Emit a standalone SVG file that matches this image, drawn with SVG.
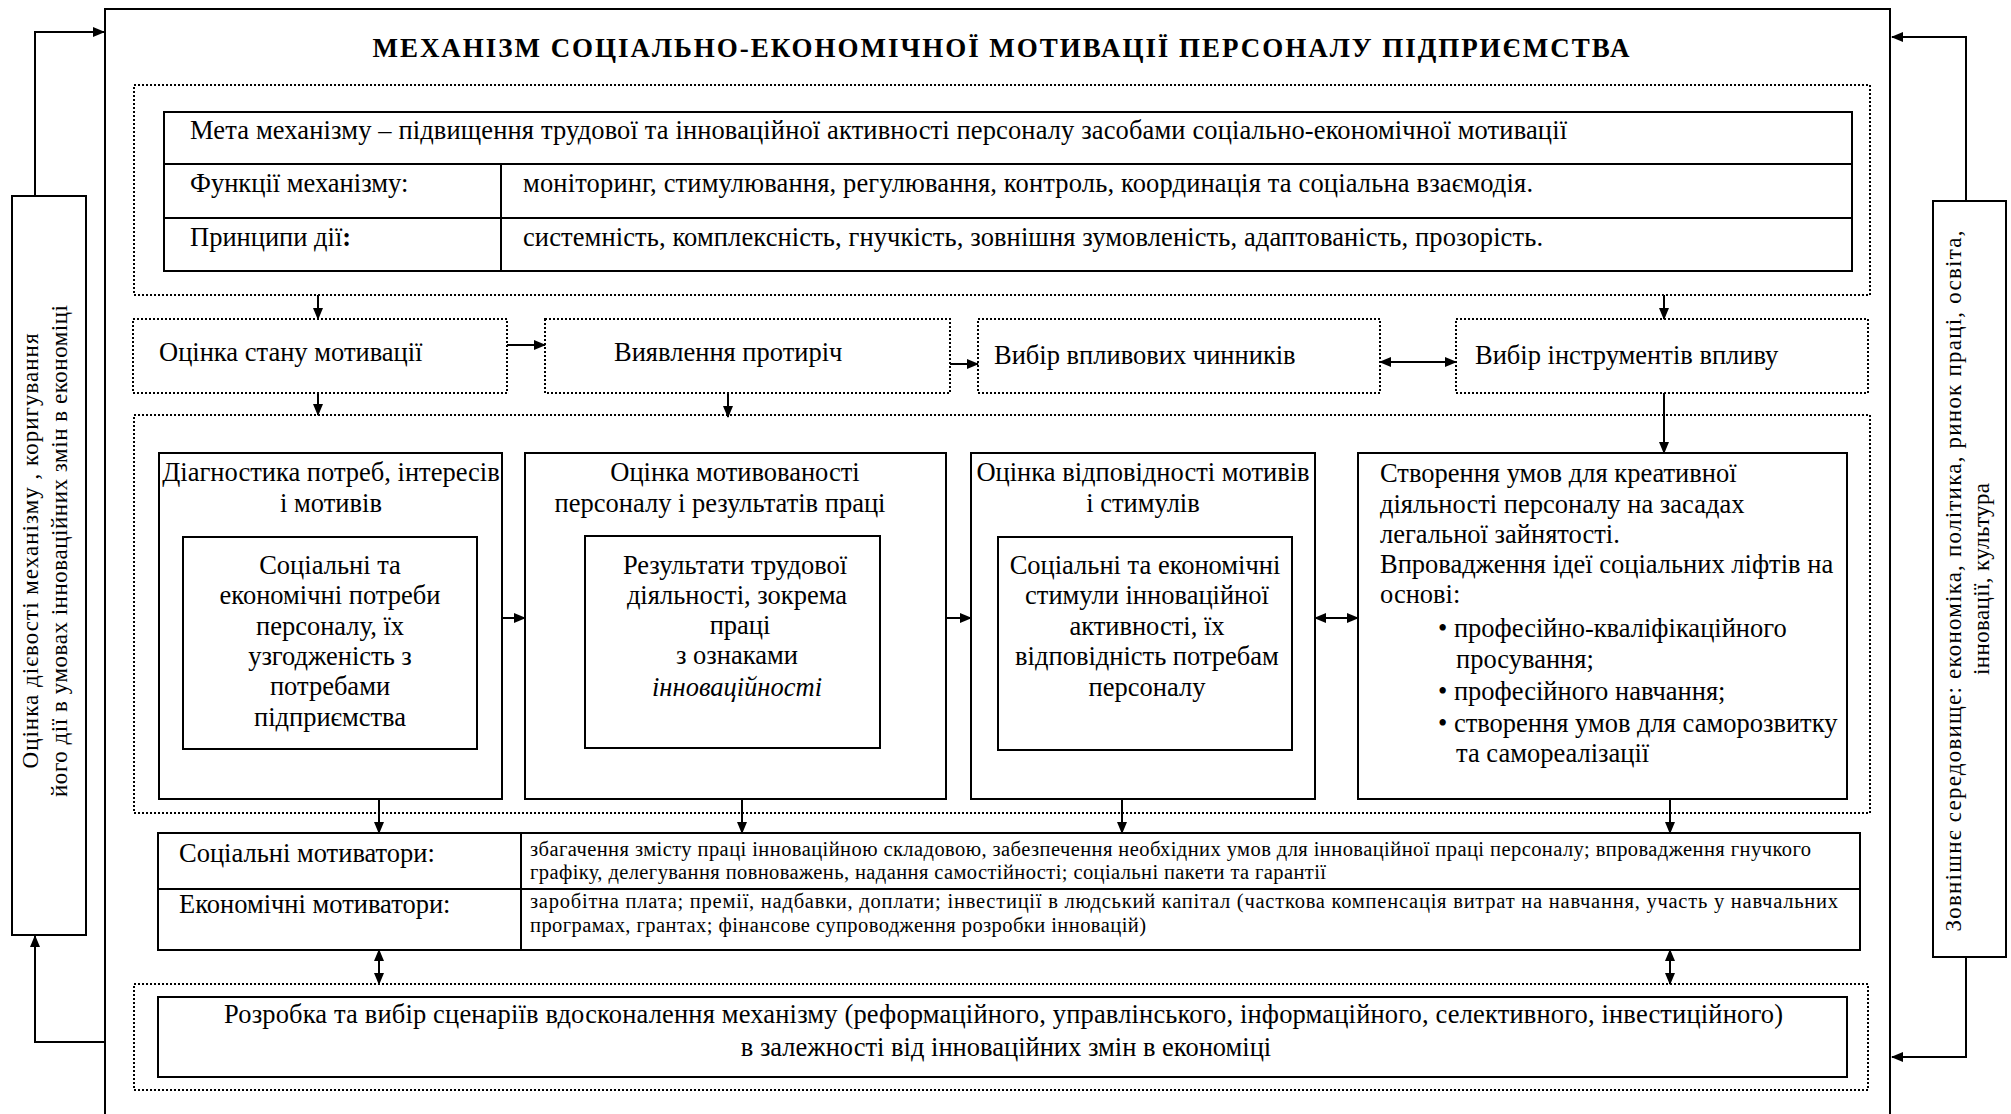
<svg xmlns="http://www.w3.org/2000/svg" width="2011" height="1114" viewBox="0 0 2011 1114">
<style>
text{font-family:"Liberation Serif","Times New Roman",serif;fill:#000}
.t{font-size:26.5px}
.s{font-size:20.5px}
.c{text-anchor:middle}
.v{font-size:23px;text-anchor:middle}
.solid{fill:#fff;stroke:#000;stroke-width:2}
.dot{fill:none;stroke:#000;stroke-width:2;stroke-dasharray:2 2}
.ln{stroke:#000;stroke-width:2;fill:none}
</style>
<defs>
<marker id="ah" markerUnits="userSpaceOnUse" markerWidth="12" markerHeight="10" refX="11" refY="5" orient="auto-start-reverse" viewBox="0 0 12 10"><path d="M0,0 L12,5 L0,10 z" fill="#000"/></marker>
</defs>
<rect width="2011" height="1114" fill="#fff"/>
<g id="frame"><path class="ln" d="M105,1114 V9 H1890 V1114"/></g>
<g id="title"><text x="1001" y="57" class="c" font-size="27" font-weight="bold" textLength="1257" lengthAdjust="spacing">МЕХАНІЗМ СОЦІАЛЬНО-ЕКОНОМІЧНОЇ МОТИВАЦІЇ ПЕРСОНАЛУ ПІДПРИЄМСТВА</text></g>
<g id="left-box"><rect class="solid" x="12" y="196" width="74" height="739"/>
<text class="v" transform="translate(38,551) rotate(-90)" textLength="435" lengthAdjust="spacing">Оцінка дієвості механізму , коригування</text>
<text class="v" transform="translate(67,551) rotate(-90)" textLength="492" lengthAdjust="spacing">його дії в умовах інноваційних змін в економіці</text></g>
<g id="right-box"><rect class="solid" x="1933" y="201" width="73" height="756"/>
<text class="v" transform="translate(1961,581) rotate(-90)" textLength="701" lengthAdjust="spacing">Зовнішнє середовище: економіка, політика, ринок праці, освіта,</text>
<text class="v" transform="translate(1989,579) rotate(-90)" textLength="192" lengthAdjust="spacing">інновації, культура</text></g>
<g id="top-block"><rect class="dot" x="134" y="85" width="1736" height="210"/>
<rect class="solid" x="164" y="112" width="1688" height="159"/>
<path class="ln" d="M164,164 H1852 M164,218 H1852 M501,164 V271"/>
<text class="t" x="190" y="139" textLength="1377" lengthAdjust="spacing">Мета механізму – підвищення трудової та інноваційної активності персоналу засобами соціально-економічної мотивації</text>
<text class="t" x="190" y="192">Функції механізму:</text>
<text class="t" x="523" y="192" textLength="1010" lengthAdjust="spacing">моніторинг, стимулювання, регулювання, контроль, координація та соціальна взаємодія.</text>
<text class="t" x="190" y="246">Принципи дії<tspan font-weight="bold">:</tspan></text>
<text class="t" x="523" y="246" textLength="1020" lengthAdjust="spacing">системність, комплексність, гнучкість, зовнішня зумовленість, адаптованість, прозорість.</text></g>
<g id="box-a"><rect class="dot" x="133" y="319" width="374" height="74"/><text class="t" x="159" y="361">Оцінка стану мотивації</text></g>
<g id="box-b"><rect class="dot" x="545" y="319" width="405" height="74"/><text class="t" x="614" y="361">Виявлення протиріч</text></g>
<g id="box-c"><rect class="dot" x="978" y="319" width="402" height="74"/><text class="t" x="994" y="364">Вибір впливових чинників</text></g>
<g id="box-d"><rect class="dot" x="1456" y="319" width="412" height="74"/><text class="t" x="1475" y="364">Вибір інструментів впливу</text></g>
<g id="middle-block"><rect class="dot" x="134" y="415" width="1736" height="398"/></g>
<g id="box-1"><rect class="solid" x="159" y="453" width="343" height="346"/>
<text class="t c" x="331" y="481">Діагностика потреб, інтересів</text>
<text class="t c" x="331" y="512">і мотивів</text>
<rect class="solid" x="183" y="537" width="294" height="212"/>
<text class="t c" x="330" y="574">Соціальні та</text>
<text class="t c" x="330" y="604">економічні потреби</text>
<text class="t c" x="330" y="635">персоналу, їх</text>
<text class="t c" x="330" y="665">узгодженість з</text>
<text class="t c" x="330" y="695">потребами</text>
<text class="t c" x="330" y="726">підприємства</text></g>
<g id="box-2"><rect class="solid" x="525" y="453" width="421" height="346"/>
<text class="t c" x="735" y="481">Оцінка мотивованості</text>
<text class="t c" x="720" y="512">персоналу і результатів праці</text>
<rect class="solid" x="585" y="536" width="295" height="212"/>
<text class="t c" x="735" y="574">Результати трудової</text>
<text class="t c" x="737" y="604">діяльності, зокрема</text>
<text class="t c" x="740" y="634">праці</text>
<text class="t c" x="737" y="664">з ознаками</text>
<text class="t c" x="737" y="696" font-style="italic">інноваційності</text></g>
<g id="box-3"><rect class="solid" x="971" y="453" width="344" height="346"/>
<text class="t c" x="1143" y="481">Оцінка відповідності мотивів</text>
<text class="t c" x="1143" y="512">і стимулів</text>
<rect class="solid" x="998" y="537" width="294" height="213"/>
<text class="t c" x="1145" y="574">Соціальні та економічні</text>
<text class="t c" x="1147" y="604">стимули інноваційної</text>
<text class="t c" x="1147" y="635">активності, їх</text>
<text class="t c" x="1147" y="665">відповідність потребам</text>
<text class="t c" x="1147" y="696">персоналу</text></g>
<g id="box-4"><rect class="solid" x="1358" y="453" width="489" height="346"/>
<text class="t" x="1380" y="482">Створення умов для креативної</text>
<text class="t" x="1380" y="513">діяльності персоналу на засадах</text>
<text class="t" x="1380" y="543">легальної зайнятості.</text>
<text class="t" x="1380" y="573">Впровадження ідеї соціальних ліфтів на</text>
<text class="t" x="1380" y="603">основі:</text>
<text class="t" x="1438" y="637">• професійно-кваліфікаційного</text>
<text class="t" x="1456" y="668">просування;</text>
<text class="t" x="1438" y="700">• професійного навчання;</text>
<text class="t" x="1438" y="732">• створення умов для саморозвитку</text>
<text class="t" x="1456" y="762">та самореалізації</text></g>
<g id="motivators"><rect class="solid" x="158" y="833" width="1702" height="117"/>
<path class="ln" d="M158,889 H1860 M521,833 V950"/>
<text class="t" x="179" y="862">Соціальні мотиватори:</text>
<text class="t" x="179" y="913">Економічні мотиватори:</text>
<text class="s" x="530" y="856" textLength="1281" lengthAdjust="spacing">збагачення змісту праці інноваційною складовою, забезпечення необхідних умов для інноваційної праці персоналу; впровадження гнучкого</text>
<text class="s" x="530" y="879" textLength="796" lengthAdjust="spacing">графіку, делегування повноважень, надання самостійності; соціальні пакети та гарантії</text>
<text class="s" x="530" y="908" textLength="1308" lengthAdjust="spacing">заробітна плата; премії, надбавки, доплати; інвестиції в людський капітал (часткова компенсація витрат на навчання, участь у навчальних</text>
<text class="s" x="530" y="932" textLength="616" lengthAdjust="spacing">програмах, грантах; фінансове супроводження розробки інновацій)</text></g>
<g id="scenarios"><rect class="dot" x="134" y="984" width="1734" height="106"/>
<rect class="solid" x="158" y="997" width="1689" height="80"/>
<text class="t" x="224" y="1023" textLength="1559" lengthAdjust="spacing">Розробка та вибір сценаріїв вдосконалення механізму (реформаційного, управлінського, інформаційного, селективного, інвестиційного)</text>
<text class="t c" x="1006" y="1056">в залежності від інноваційних змін в економіці</text></g>
<g id="connectors" class="ln">
<path d="M35,196 V32 H104" marker-end="url(#ah)"/>
<path d="M106,1042 H35 V936" marker-end="url(#ah)"/>
<path d="M1966,201 V37 H1892" marker-end="url(#ah)"/>
<path d="M1966,957 V1057 H1892" marker-end="url(#ah)"/>
<path d="M318,295 V319" marker-end="url(#ah)"/>
<path d="M1664,295 V319" marker-end="url(#ah)"/>
<path d="M507,345 H545" marker-end="url(#ah)"/>
<path d="M950,364 H978" marker-end="url(#ah)"/>
<path d="M1380,362 H1456" marker-start="url(#ah)" marker-end="url(#ah)"/>
<path d="M318,393 V415" marker-end="url(#ah)"/>
<path d="M728,393 V417" marker-end="url(#ah)"/>
<path d="M1664,393 V453" marker-end="url(#ah)"/>
<path d="M502,618 H525" marker-end="url(#ah)"/>
<path d="M946,618 H971" marker-end="url(#ah)"/>
<path d="M1315,618 H1358" marker-start="url(#ah)" marker-end="url(#ah)"/>
<path d="M379,799 V833" marker-end="url(#ah)"/>
<path d="M742,799 V833" marker-end="url(#ah)"/>
<path d="M1122,799 V833" marker-end="url(#ah)"/>
<path d="M1670,799 V833" marker-end="url(#ah)"/>
<path d="M379,950 V984" marker-start="url(#ah)" marker-end="url(#ah)"/>
<path d="M1670,950 V984" marker-start="url(#ah)" marker-end="url(#ah)"/>
</g>
</svg>
